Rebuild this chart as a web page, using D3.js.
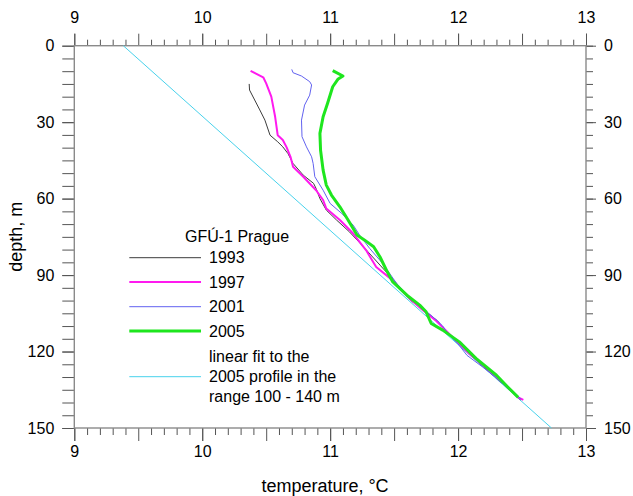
<!DOCTYPE html>
<html><head><meta charset="utf-8">
<script src="https://cdn.jsdelivr.net/npm/d3@7"></script>
<style>body{margin:0;background:#fff}svg{display:block}text{font-family:"Liberation Sans",Arial,sans-serif}</style>
</head><body>
<svg id="c" width="633" height="496"></svg>
<script>
// ---- data ----
const depth1993 = [15,17.4,21.3,25.2,29.2,35.1,37.7,39.7,42.3,46.2,50.8,54,56,60,64.5,68.4,73,78.9,86.1,93.3,100,104,108,112,116,121,126,130,134,139];
const temp1993  = [10.367,10.37,10.41,10.45,10.49,10.53,10.59,10.63,10.67,10.71,10.79,10.87,10.89,10.92,10.97,11.05,11.15,11.26,11.39,11.52,11.63,11.74,11.84,11.90,12.00,12.09,12.20,12.29,12.38,12.49];
const depth1997 = [9.9,12.4,14.8,20,27.9,35.1,37,39.9,43.6,47.5,51.4,56.7,60.6,63.9,68.4,73.7,80.2,86.8,91.3,99.2,104,108,112,116,121,126,130,134,138,139];
const temp1997  = [10.378,10.477,10.50,10.54,10.57,10.59,10.63,10.66,10.69,10.71,10.79,10.89,10.945,10.97,11.076,11.18,11.28,11.36,11.47,11.62,11.73,11.83,11.91,11.99,12.09,12.21,12.30,12.39,12.47,12.51];
const depth2001 = [9.3,10.6,11.9,14.1,15.4,19.4,23.3,29.2,35.7,39.7,43.6,46.2,51.4,56.7,61.9,65.8,70.4,74.3,79.6,85.4,93.3,98,102,105,108,110,113,117,121.5,126,130,134,138.5];
const temp2001  = [10.70,10.71,10.776,10.84,10.855,10.84,10.80,10.776,10.78,10.815,10.855,10.867,10.88,10.945,11.0,11.09,11.18,11.23,11.31,11.41,11.52,11.61,11.70,11.77,11.84,11.88,11.92,12.00,12.07,12.19,12.29,12.38,12.49];
const depth2005 = [9.8,11.9,13.2,16.1,22.6,27.9,34.4,41,48.8,54.7,58.6,63.2,68.4,74.3,76.3,78.9,82.9,88.1,92.7,97.9,101.8,104.4,109,111.6,116.2,122.7,129.3,134,138];
const temp2005  = [11.02,11.10,11.06,11.02,10.98,10.945,10.92,10.925,10.945,10.97,11.01,11.076,11.14,11.21,11.27,11.34,11.39,11.44,11.49,11.60,11.70,11.75,11.79,11.88,12.01,12.14,12.30,12.39,12.47];
const fitDepth = [0,150];
const fitTemp  = [9.383,12.73];
const xTicks = [9,10,11,12,13];
const yTicks = [0,30,60,90,120,150];
const legendTitle = "GFÚ-1 Prague";
const seriesNames = ["1993","1997","2001","2005"];
const fitLabel = ["linear fit to the","2005 profile in the","range 100 - 140 m"];

// ---- layout ----
const svg = d3.select("#c");
const L=74.3, R=586, T=45.7, B=428;
const x = d3.scaleLinear().domain([9,13]).range([L,R]);
const y = d3.scaleLinear().domain([0,150]).range([T,B]);
const axisCol="#8a8a8a", tickCol="#555";

const minorX = d3.range(90,131).map(v=>v/10).filter(v=>Math.round(v*10)%5!==0);
const medX = d3.range(90,131,5).map(v=>v/10);
const minorY = d3.range(0,151,5);

function styleAxis(g){
  g.select(".domain").remove();
  g.selectAll("line").attr("stroke",tickCol).attr("stroke-width",1);
  g.selectAll("text").attr("font-size",16).attr("fill","#000");
}
// top
svg.append("g").attr("transform",`translate(0,${T})`).call(d3.axisTop(x).tickValues(minorX).tickSize(6).tickFormat("")).call(styleAxis);
svg.append("g").attr("transform",`translate(0,${T})`).call(d3.axisTop(x).tickValues(medX).tickSize(12).tickFormat("")).call(styleAxis);
svg.append("g").attr("transform",`translate(0,${T})`).call(d3.axisTop(x).tickValues(xTicks).tickSize(12).tickPadding(10.4).tickFormat(d3.format("d"))).call(styleAxis);
// bottom
svg.append("g").attr("transform",`translate(0,${B})`).call(d3.axisBottom(x).tickValues(minorX).tickSize(7).tickFormat("")).call(styleAxis);
svg.append("g").attr("transform",`translate(0,${B})`).call(d3.axisBottom(x).tickValues(medX).tickSize(13).tickFormat("")).call(styleAxis);
svg.append("g").attr("transform",`translate(0,${B})`).call(d3.axisBottom(x).tickValues(xTicks).tickSize(13).tickPadding(5).tickFormat(d3.format("d"))).call(styleAxis);
// left
svg.append("g").attr("transform",`translate(${L},0)`).call(d3.axisLeft(y).tickValues(minorY).tickSize(12).tickFormat("")).call(styleAxis);
svg.append("g").attr("transform",`translate(${L},0)`).call(d3.axisLeft(y).tickValues(yTicks).tickSize(12).tickPadding(8).tickFormat(d3.format("d"))).call(styleAxis);
// right
svg.append("g").attr("transform",`translate(${R},0)`).call(d3.axisRight(y).tickValues(minorY).tickSize(7).tickFormat("")).call(styleAxis);
svg.append("g").attr("transform",`translate(${R},0)`).call(d3.axisRight(y).tickValues(yTicks).tickSize(10).tickPadding(8).tickFormat(d3.format("d"))).call(styleAxis);

// frame
svg.append("rect").attr("x",L).attr("y",T).attr("width",R-L).attr("height",B-T)
  .attr("fill","none").attr("stroke",axisCol).attr("stroke-width",1.4);

// titles
svg.append("text").attr("x",325).attr("y",486).attr("dy","0.35em").attr("text-anchor","middle").attr("font-size",18).text("temperature, °C");
svg.append("text").attr("transform",`translate(16,${(T+B)/2}) rotate(-90)`).attr("dy","0.35em").attr("text-anchor","middle").attr("font-size",18).text("depth, m");

// series
const line = d3.line().x(d=>x(d[1])).y(d=>y(d[0]));
const series = [
  {d:depth1993,t:temp1993,c:"#3c3c3c",w:1},
  {d:depth1997,t:temp1997,c:"#ff1aef",w:2},
  {d:depth2001,t:temp2001,c:"#6262f0",w:1},
  {d:depth2005,t:temp2005,c:"#1ee61e",w:3}
];
const fit = {d:fitDepth,t:fitTemp,c:"#48d2ec",w:1};
const plot = svg.append("g");
plot.append("path").datum(d3.zip(fit.d,fit.t)).attr("d",line).attr("fill","none").attr("stroke",fit.c).attr("stroke-width",fit.w);
series.forEach(s=>{
  plot.append("path").datum(d3.zip(s.d,s.t)).attr("d",line).attr("fill","none")
    .attr("stroke",s.c).attr("stroke-width",s.w).attr("stroke-linejoin","round");
});

// legend
const lg = svg.append("g");
lg.append("text").attr("x",185).attr("y",236).attr("dy","0.35em").attr("font-size",16).text(legendTitle);
const ly = [257.7,282,306.7,331];
series.forEach((s,i)=>{
  lg.append("line").attr("x1",129.3).attr("x2",201).attr("y1",ly[i]).attr("y2",ly[i]).attr("stroke",s.c).attr("stroke-width",s.w);
  lg.append("text").attr("x",209).attr("y",ly[i]).attr("dy","0.35em").attr("font-size",16).text(seriesNames[i]);
});
lg.append("line").attr("x1",129.3).attr("x2",201).attr("y1",376.7).attr("y2",376.7).attr("stroke",fit.c).attr("stroke-width",1);
fitLabel.forEach((t,i)=>{
  lg.append("text").attr("x",209).attr("y",356.7+i*20).attr("dy","0.35em").attr("font-size",16).text(t);
});
</script>
</body></html>
